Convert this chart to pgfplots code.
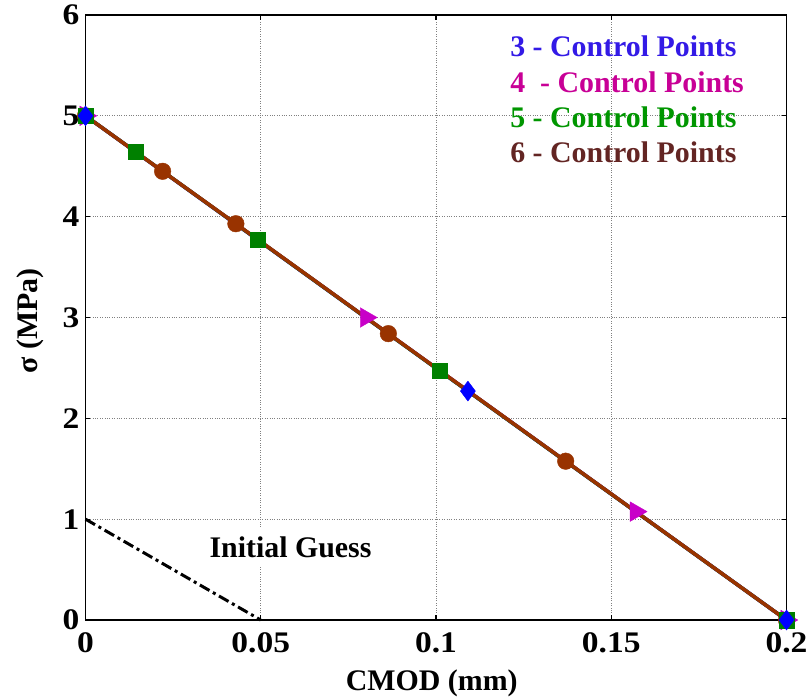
\documentclass[border=0pt]{standalone}
\usepackage{pgfplots}
\pgfplotsset{compat=1.18}
\usepackage{fontspec}
\setmainfont{Liberation Serif}
\newfontfamily\tickfont{Liberation Serif}[FakeStretch=1.12]
\definecolor{cblue}{RGB}{0,0,255}
\definecolor{cmag}{RGB}{200,0,200}
\definecolor{cgreen}{RGB}{0,128,0}
\definecolor{cbrown}{RGB}{153,51,0}
\definecolor{tblue}{RGB}{51,26,230}
\definecolor{tmag}{RGB}{200,0,150}
\definecolor{tgreen}{RGB}{0,150,0}
\definecolor{tbrown}{RGB}{99,37,35}
\begin{document}
\begin{tikzpicture}
\begin{axis}[
  at={(0,0)}, anchor=origin,
  scale only axis, width=701bp, height=605bp,
  xmin=0, xmax=0.2, ymin=0, ymax=6,
  xtick={0,0.05,0.1,0.15,0.2},
  xticklabels={0,0.05,0.1,0.15,0.2},
  ytick={0,1,2,3,4,5,6},
  scaled x ticks=false,
  tick align=inside,
  major tick length=5bp,
  axis line style={line width=1.5bp, black},
  every tick/.style={black, line width=1.2bp},
  grid=major,
  major grid style={dotted, gray, line width=1bp},
  /pgf/number format/assume math mode=true,
  ticklabel style={font=\fontsize{30}{36}\selectfont\tickfont\bfseries, inner sep=1bp},
  xticklabel style={yshift=-11bp},
  yticklabel style={xshift=-5bp},
  xlabel={CMOD (mm)},
  ylabel={σ (MPa)},
  label style={font=\fontsize{30}{36}\selectfont\bfseries},
  xlabel style={at={(axis description cs:0.494,-0.104)}, anchor=center},
  ylabel style={at={(axis description cs:-0.0785,0.494)}, anchor=center, rotate=0},
  clip=false,
  legend style={draw=none, fill=none, at={(axis description cs:0.606,0.972)}, anchor=north west,
    inner sep=0pt, outer sep=0pt, row sep=0pt,
    font=\fontsize{30}{36}\selectfont\bfseries,
    nodes={inner sep=0pt, text height=25bp, text depth=10.3bp}},
  legend cell align=left,
  legend image code/.code={},
]
\addlegendimage{empty legend}\addlegendentry{\textcolor{tblue}{3 - Control Points}}
\addlegendimage{empty legend}\addlegendentry{\textcolor{tmag}{4 \ - Control Points}}
\addlegendimage{empty legend}\addlegendentry{\textcolor{tgreen}{5 - Control Points}}
\addlegendimage{empty legend}\addlegendentry{\textcolor{tbrown}{6 - Control Points}}

% initial guess
\addplot[forget plot, black, line width=3bp, dash pattern=on 11bp off 4bp on 3bp off 4bp] coordinates {(0,1) (0.05,0)};

% lines
\addplot[forget plot, cblue, line width=3.5bp] coordinates {(0,5) (0.1091,2.27) (0.2,0)};
\addplot[forget plot, cmag, line width=3.5bp] coordinates {(0,5) (0.08,3.0) (0.157,1.075) (0.2,0)};
\addplot[forget plot, cgreen, line width=3.5bp] coordinates {(0,5) (0.0143,4.643) (0.0492,3.77) (0.1011,2.47) (0.2,0)};
\addplot[forget plot, cbrown, line width=3.5bp] coordinates {(0,5) (0.022,4.45) (0.0429,3.93) (0.0864,2.84) (0.137,1.575) (0.2,0)};

% markers
\addplot[forget plot, only marks, mark=*, mark size=8.3bp, cbrown, mark options={fill=cbrown, draw=cbrown}] coordinates {(0,5) (0.022,4.45) (0.0429,3.93) (0.0864,2.84) (0.137,1.575) (0.2,0)};
\addplot[forget plot, only marks, mark=triangle*, mark size=11.3bp, cmag, mark options={fill=cmag, draw=cmag, rotate=-90}] coordinates {(0,5) (0.08,3.0) (0.157,1.075) (0.2,0)};
\addplot[forget plot, only marks, mark=square*, mark size=7.7bp, cgreen, mark options={fill=cgreen, draw=cgreen}] coordinates {(0,5) (0.0143,4.643) (0.0492,3.77) (0.1011,2.47) (0.2,0)};
\addplot[forget plot, only marks, mark=diamond*, mark size=10bp, cblue, mark options={fill=cblue, draw=cblue}] coordinates {(0,5) (0.1091,2.27) (0.2,0)};

\node[fill=white, inner sep=9bp, font=\fontsize{30}{36}\selectfont\bfseries] at (axis cs:0.0585,0.72) {Initial Guess};
\end{axis}
\pgfresetboundingbox
\useasboundingbox (-85.5bp,-80bp) rectangle (723.5bp,620bp);
\end{tikzpicture}
\end{document}
